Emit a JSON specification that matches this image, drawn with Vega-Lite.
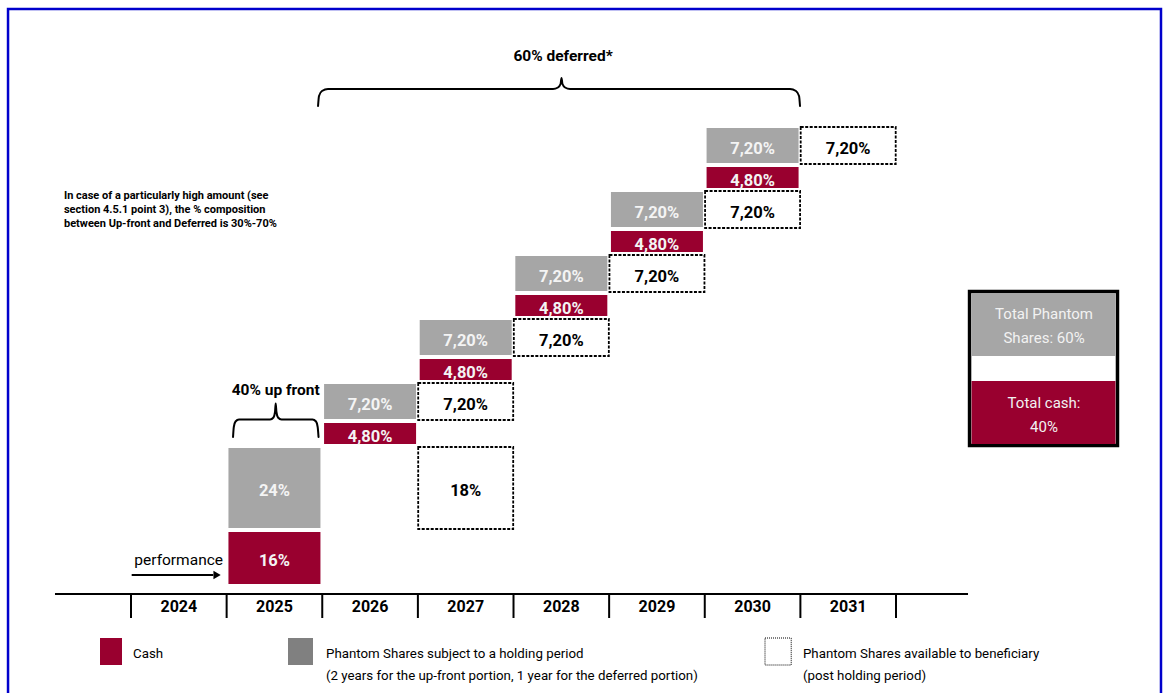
{
  "$schema": "https://vega.github.io/schema/vega-lite/v6.json",
  "width": 1163,
  "height": 693,
  "autosize": {"type": "fit", "contains": "padding"},
  "padding": 0,
  "background": "white",
  "config": {"view": {"stroke": null}, "text": {"font": "Roboto"}, "scale": {"continuousPadding": 0}},
  "datasets": {
    "frame": [{"x0": 2022.214, "x1": 2034.271, "y0": -110, "y1": 584}],
    "boxes": [
      {"year": 2025, "kind": "cash", "label": "16%", "bottom": 9, "top": 61, "mid": 35},
      {"year": 2025, "kind": "phantom", "label": "24%", "bottom": 65, "top": 145, "mid": 105},
      {"year": 2027, "kind": "available", "label": "18%", "bottom": 64, "top": 146, "mid": 105},
      {"year": 2026, "kind": "cash", "label": "4,80%", "bottom": 149, "top": 170, "mid": 159.5},
      {"year": 2026, "kind": "phantom", "label": "7,20%", "bottom": 174, "top": 209, "mid": 191.5},
      {"year": 2027, "kind": "available", "label": "7,20%", "bottom": 173, "top": 210, "mid": 191.5},
      {"year": 2027, "kind": "cash", "label": "4,80%", "bottom": 213, "top": 234, "mid": 223.5},
      {"year": 2027, "kind": "phantom", "label": "7,20%", "bottom": 238, "top": 273, "mid": 255.5},
      {"year": 2028, "kind": "available", "label": "7,20%", "bottom": 237, "top": 274, "mid": 255.5},
      {"year": 2028, "kind": "cash", "label": "4,80%", "bottom": 277, "top": 298, "mid": 287.5},
      {"year": 2028, "kind": "phantom", "label": "7,20%", "bottom": 302, "top": 337, "mid": 319.5},
      {"year": 2029, "kind": "available", "label": "7,20%", "bottom": 301, "top": 338, "mid": 319.5},
      {"year": 2029, "kind": "cash", "label": "4,80%", "bottom": 341, "top": 362, "mid": 351.5},
      {"year": 2029, "kind": "phantom", "label": "7,20%", "bottom": 366, "top": 401, "mid": 383.5},
      {"year": 2030, "kind": "available", "label": "7,20%", "bottom": 365, "top": 402, "mid": 383.5},
      {"year": 2030, "kind": "cash", "label": "4,80%", "bottom": 405, "top": 426, "mid": 415.5},
      {"year": 2030, "kind": "phantom", "label": "7,20%", "bottom": 430, "top": 465, "mid": 447.5},
      {"year": 2031, "kind": "available", "label": "7,20%", "bottom": 429, "top": 466, "mid": 447.5}
    ],
    "axisline": [{"from": 2022.705, "to": 2032.253, "level": -1}],
    "separators": [
      {"edge": 2023.5, "top": -1, "bottom": -25},
      {"edge": 2024.5, "top": -1, "bottom": -25},
      {"edge": 2025.5, "top": -1, "bottom": -25},
      {"edge": 2026.5, "top": -1, "bottom": -25},
      {"edge": 2027.5, "top": -1, "bottom": -25},
      {"edge": 2028.5, "top": -1, "bottom": -25},
      {"edge": 2029.5, "top": -1, "bottom": -25},
      {"edge": 2030.5, "top": -1, "bottom": -25},
      {"edge": 2031.5, "top": -1, "bottom": -25}
    ],
    "years": [
      {"year": 2024, "label": "2024", "level": -14},
      {"year": 2025, "label": "2025", "level": -14},
      {"year": 2026, "label": "2026", "level": -14},
      {"year": 2027, "label": "2027", "level": -14},
      {"year": 2028, "label": "2028", "level": -14},
      {"year": 2029, "label": "2029", "level": -14},
      {"year": 2030, "label": "2030", "level": -14},
      {"year": 2031, "label": "2031", "level": -14}
    ],
    "braces": [
      {"brace": "deferred", "seq": 1, "x": 2025.456, "y": 487},
      {"brace": "deferred", "seq": 2, "x": 2025.466, "y": 497},
      {"brace": "deferred", "seq": 3, "x": 2025.497, "y": 502},
      {"brace": "deferred", "seq": 4, "x": 2025.560, "y": 504},
      {"brace": "deferred", "seq": 5, "x": 2027.913, "y": 504},
      {"brace": "deferred", "seq": 6, "x": 2027.965, "y": 505.5},
      {"brace": "deferred", "seq": 7, "x": 2027.992, "y": 509},
      {"brace": "deferred", "seq": 8, "x": 2028.002, "y": 515},
      {"brace": "deferred", "seq": 9, "x": 2028.012, "y": 509},
      {"brace": "deferred", "seq": 10, "x": 2028.039, "y": 505.5},
      {"brace": "deferred", "seq": 11, "x": 2028.091, "y": 504},
      {"brace": "deferred", "seq": 12, "x": 2030.392, "y": 504},
      {"brace": "deferred", "seq": 13, "x": 2030.454, "y": 502},
      {"brace": "deferred", "seq": 14, "x": 2030.486, "y": 497},
      {"brace": "deferred", "seq": 15, "x": 2030.496, "y": 487},
      {"brace": "upfront", "seq": 1, "x": 2024.567, "y": 156},
      {"brace": "upfront", "seq": 2, "x": 2024.575, "y": 166},
      {"brace": "upfront", "seq": 3, "x": 2024.593, "y": 171.5},
      {"brace": "upfront", "seq": 4, "x": 2024.629, "y": 173.5},
      {"brace": "upfront", "seq": 5, "x": 2024.954, "y": 173.5},
      {"brace": "upfront", "seq": 6, "x": 2024.990, "y": 175.5},
      {"brace": "upfront", "seq": 7, "x": 2025.006, "y": 181},
      {"brace": "upfront", "seq": 8, "x": 2025.013, "y": 189.5},
      {"brace": "upfront", "seq": 9, "x": 2025.021, "y": 181},
      {"brace": "upfront", "seq": 10, "x": 2025.037, "y": 175.5},
      {"brace": "upfront", "seq": 11, "x": 2025.074, "y": 173.5},
      {"brace": "upfront", "seq": 12, "x": 2025.398, "y": 173.5},
      {"brace": "upfront", "seq": 13, "x": 2025.435, "y": 171.5},
      {"brace": "upfront", "seq": 14, "x": 2025.452, "y": 166},
      {"brace": "upfront", "seq": 15, "x": 2025.461, "y": 156}
    ],
    "titles": [
      {"x": 2028.018, "y": 537, "text": "60% deferred*"},
      {"x": 2025.013, "y": 203.5, "text": "40% up front"}
    ],
    "note": [
      {"x": 2022.799, "y": 397.4, "text": "In case of a particularly high amount (see\nsection 4.5.1 point 3), the % composition\nbetween Up-front and Deferred is 30%-70%"}
    ],
    "performance": [{"x": 2023.535, "y": 28, "text": "performance"}],
    "arrowshaft": [{"from": 2023.507, "to": 2024.36, "level": 18}],
    "arrowhead": [{"x": 2024.40, "y": 18}],
    "legendfill": [
      {"kind": "cash", "x0": 2023.176, "x1": 2023.406, "y0": -72, "y1": -45},
      {"kind": "phantom", "x0": 2025.142, "x1": 2025.403, "y0": -72, "y1": -45}
    ],
    "legenddotted": [{"kind": "available", "x0": 2030.130, "x1": 2030.404, "y0": -72, "y1": -45}],
    "legendtext": [
      {"x": 2023.521, "y": -61, "text": "Cash"},
      {"x": 2025.539, "y": -61, "text": "Phantom Shares subject to a holding period\n(2 years for the up-front portion, 1 year for the deferred portion)"},
      {"x": 2030.527, "y": -61, "text": "Phantom Shares available to beneficiary\n(post holding period)"}
    ],
    "totalframe": [{"x0": 2032.269, "x1": 2033.816, "y0": 147.5, "y1": 301.5}],
    "totalparts": [
      {"part": "phantom", "x0": 2032.290, "x1": 2033.795, "y0": 237, "y1": 300},
      {"part": "cash", "x0": 2032.290, "x1": 2033.795, "y0": 149, "y1": 212}
    ],
    "totaltext": [
      {"x": 2033.048, "y": 279, "text": "Total Phantom\nShares: 60%"},
      {"x": 2033.048, "y": 190.4, "text": "Total cash:\n40%"}
    ]
  },
  "layer": [
    {
      "data": {"name": "frame"},
      "mark": {"type": "rect", "fill": null, "stroke": "#0000CC", "strokeWidth": 2.5, "clip": true},
      "encoding": {
        "x": {"field": "x0", "type": "quantitative", "scale": {"domain": [2022.13, 2034.292], "nice": false, "zero": false, "padding": 0}, "axis": null},
        "x2": {"field": "x1"},
        "y": {"field": "y0", "type": "quantitative", "scale": {"domain": [-100, 593], "nice": false, "zero": false, "padding": 0}, "axis": null},
        "y2": {"field": "y1"}
      }
    },
    {
      "data": {"name": "boxes"},
      "transform": [{"filter": "datum.kind !== 'available'"}],
      "mark": {"type": "bar", "width": 92},
      "encoding": {
        "x": {"field": "year", "type": "quantitative", "scale": {"domain": [2022.13, 2034.292], "nice": false, "zero": false, "padding": 0}, "axis": null},
        "y": {"field": "top", "type": "quantitative", "scale": {"domain": [-100, 593], "nice": false, "zero": false, "padding": 0}, "axis": null},
        "y2": {"field": "bottom"},
        "color": {"condition": {"test": "datum.kind === 'cash'", "value": "#99002F"}, "value": "#A6A6A6"}
      }
    },
    {
      "data": {"name": "boxes"},
      "transform": [{"filter": "datum.kind === 'available'"}],
      "mark": {"type": "bar", "width": 95, "fill": "white", "stroke": "black", "strokeWidth": 1.8, "strokeDash": [3, 1.5]},
      "encoding": {
        "x": {"field": "year", "type": "quantitative", "scale": {"domain": [2022.13, 2034.292], "nice": false, "zero": false, "padding": 0}, "axis": null},
        "y": {"field": "top", "type": "quantitative", "scale": {"domain": [-100, 593], "nice": false, "zero": false, "padding": 0}, "axis": null},
        "y2": {"field": "bottom"}
      }
    },
    {
      "data": {"name": "boxes"},
      "mark": {"type": "text", "font": "Roboto", "fontWeight": "bold", "fontSize": 16.5, "align": "center", "baseline": "middle", "dy": 3},
      "encoding": {
        "x": {"field": "year", "type": "quantitative", "scale": {"domain": [2022.13, 2034.292], "nice": false, "zero": false, "padding": 0}, "axis": null},
        "y": {"field": "mid", "type": "quantitative", "scale": {"domain": [-100, 593], "nice": false, "zero": false, "padding": 0}, "axis": null},
        "text": {"field": "label"},
        "color": {"condition": {"test": "datum.kind === 'available'", "value": "black"}, "value": "#F4F4F4"}
      }
    },
    {
      "data": {"name": "axisline"},
      "mark": {"type": "rule", "color": "black", "strokeWidth": 2},
      "encoding": {
        "x": {"field": "from", "type": "quantitative", "scale": {"domain": [2022.13, 2034.292], "nice": false, "zero": false, "padding": 0}, "axis": null},
        "x2": {"field": "to"},
        "y": {"field": "level", "type": "quantitative", "scale": {"domain": [-100, 593], "nice": false, "zero": false, "padding": 0}, "axis": null}
      }
    },
    {
      "data": {"name": "separators"},
      "mark": {"type": "rule", "color": "black", "strokeWidth": 2},
      "encoding": {
        "x": {"field": "edge", "type": "quantitative", "scale": {"domain": [2022.13, 2034.292], "nice": false, "zero": false, "padding": 0}, "axis": null},
        "y": {"field": "top", "type": "quantitative", "scale": {"domain": [-100, 593], "nice": false, "zero": false, "padding": 0}, "axis": null},
        "y2": {"field": "bottom"}
      }
    },
    {
      "data": {"name": "years"},
      "mark": {"type": "text", "font": "Roboto", "fontWeight": "bold", "fontSize": 16, "align": "center", "baseline": "middle", "color": "black"},
      "encoding": {
        "x": {"field": "year", "type": "quantitative", "scale": {"domain": [2022.13, 2034.292], "nice": false, "zero": false, "padding": 0}, "axis": null},
        "y": {"field": "level", "type": "quantitative", "scale": {"domain": [-100, 593], "nice": false, "zero": false, "padding": 0}, "axis": null},
        "text": {"field": "label"}
      }
    },
    {
      "data": {"name": "braces"},
      "mark": {"type": "line", "interpolate": "monotone", "color": "black", "strokeWidth": 2, "strokeCap": "round"},
      "encoding": {
        "x": {"field": "x", "type": "quantitative", "scale": {"domain": [2022.13, 2034.292], "nice": false, "zero": false, "padding": 0}, "axis": null},
        "y": {"field": "y", "type": "quantitative", "scale": {"domain": [-100, 593], "nice": false, "zero": false, "padding": 0}, "axis": null},
        "detail": {"field": "brace"},
        "order": {"field": "seq", "type": "quantitative"}
      }
    },
    {
      "data": {"name": "titles"},
      "mark": {"type": "text", "font": "Roboto", "fontWeight": "bold", "fontSize": 15.5, "align": "center", "baseline": "middle", "color": "black"},
      "encoding": {
        "x": {"field": "x", "type": "quantitative", "scale": {"domain": [2022.13, 2034.292], "nice": false, "zero": false, "padding": 0}, "axis": null},
        "y": {"field": "y", "type": "quantitative", "scale": {"domain": [-100, 593], "nice": false, "zero": false, "padding": 0}, "axis": null},
        "text": {"field": "text"}
      }
    },
    {
      "data": {"name": "note"},
      "mark": {"type": "text", "font": "Roboto", "fontWeight": "bold", "fontSize": 11, "align": "left", "baseline": "middle", "lineBreak": "\n", "lineHeight": 14.2, "color": "black"},
      "encoding": {
        "x": {"field": "x", "type": "quantitative", "scale": {"domain": [2022.13, 2034.292], "nice": false, "zero": false, "padding": 0}, "axis": null},
        "y": {"field": "y", "type": "quantitative", "scale": {"domain": [-100, 593], "nice": false, "zero": false, "padding": 0}, "axis": null},
        "text": {"field": "text"}
      }
    },
    {
      "data": {"name": "performance"},
      "mark": {"type": "text", "font": "Roboto", "fontSize": 15.5, "align": "left", "baseline": "alphabetic", "color": "black"},
      "encoding": {
        "x": {"field": "x", "type": "quantitative", "scale": {"domain": [2022.13, 2034.292], "nice": false, "zero": false, "padding": 0}, "axis": null},
        "y": {"field": "y", "type": "quantitative", "scale": {"domain": [-100, 593], "nice": false, "zero": false, "padding": 0}, "axis": null},
        "text": {"field": "text"}
      }
    },
    {
      "data": {"name": "arrowshaft"},
      "mark": {"type": "rule", "color": "black", "strokeWidth": 2},
      "encoding": {
        "x": {"field": "from", "type": "quantitative", "scale": {"domain": [2022.13, 2034.292], "nice": false, "zero": false, "padding": 0}, "axis": null},
        "x2": {"field": "to"},
        "y": {"field": "level", "type": "quantitative", "scale": {"domain": [-100, 593], "nice": false, "zero": false, "padding": 0}, "axis": null}
      }
    },
    {
      "data": {"name": "arrowhead"},
      "mark": {"type": "point", "shape": "triangle-right", "filled": true, "color": "black", "size": 70, "opacity": 1},
      "encoding": {
        "x": {"field": "x", "type": "quantitative", "scale": {"domain": [2022.13, 2034.292], "nice": false, "zero": false, "padding": 0}, "axis": null},
        "y": {"field": "y", "type": "quantitative", "scale": {"domain": [-100, 593], "nice": false, "zero": false, "padding": 0}, "axis": null}
      }
    },
    {
      "data": {"name": "legendfill"},
      "mark": {"type": "rect"},
      "encoding": {
        "x": {"field": "x0", "type": "quantitative", "scale": {"domain": [2022.13, 2034.292], "nice": false, "zero": false, "padding": 0}, "axis": null},
        "x2": {"field": "x1"},
        "y": {"field": "y0", "type": "quantitative", "scale": {"domain": [-100, 593], "nice": false, "zero": false, "padding": 0}, "axis": null},
        "y2": {"field": "y1"},
        "color": {"condition": {"test": "datum.kind === 'cash'", "value": "#99002F"}, "value": "#808080"}
      }
    },
    {
      "data": {"name": "legenddotted"},
      "mark": {"type": "rect", "fill": "white", "stroke": "black", "strokeWidth": 1, "strokeDash": [1, 1]},
      "encoding": {
        "x": {"field": "x0", "type": "quantitative", "scale": {"domain": [2022.13, 2034.292], "nice": false, "zero": false, "padding": 0}, "axis": null},
        "x2": {"field": "x1"},
        "y": {"field": "y0", "type": "quantitative", "scale": {"domain": [-100, 593], "nice": false, "zero": false, "padding": 0}, "axis": null},
        "y2": {"field": "y1"}
      }
    },
    {
      "data": {"name": "legendtext"},
      "mark": {"type": "text", "font": "Roboto", "fontSize": 13.3, "align": "left", "baseline": "middle", "lineBreak": "\n", "lineHeight": 22, "color": "black"},
      "encoding": {
        "x": {"field": "x", "type": "quantitative", "scale": {"domain": [2022.13, 2034.292], "nice": false, "zero": false, "padding": 0}, "axis": null},
        "y": {"field": "y", "type": "quantitative", "scale": {"domain": [-100, 593], "nice": false, "zero": false, "padding": 0}, "axis": null},
        "text": {"field": "text"}
      }
    },
    {
      "data": {"name": "totalframe"},
      "mark": {"type": "rect", "fill": "white", "stroke": "black", "strokeWidth": 3.5},
      "encoding": {
        "x": {"field": "x0", "type": "quantitative", "scale": {"domain": [2022.13, 2034.292], "nice": false, "zero": false, "padding": 0}, "axis": null},
        "x2": {"field": "x1"},
        "y": {"field": "y0", "type": "quantitative", "scale": {"domain": [-100, 593], "nice": false, "zero": false, "padding": 0}, "axis": null},
        "y2": {"field": "y1"}
      }
    },
    {
      "data": {"name": "totalparts"},
      "mark": {"type": "rect"},
      "encoding": {
        "x": {"field": "x0", "type": "quantitative", "scale": {"domain": [2022.13, 2034.292], "nice": false, "zero": false, "padding": 0}, "axis": null},
        "x2": {"field": "x1"},
        "y": {"field": "y0", "type": "quantitative", "scale": {"domain": [-100, 593], "nice": false, "zero": false, "padding": 0}, "axis": null},
        "y2": {"field": "y1"},
        "color": {"condition": {"test": "datum.part === 'cash'", "value": "#99002F"}, "value": "#A6A6A6"}
      }
    },
    {
      "data": {"name": "totaltext"},
      "mark": {"type": "text", "font": "Roboto", "fontSize": 15, "align": "center", "baseline": "middle", "lineBreak": "\n", "lineHeight": 24, "color": "#F2F2F2"},
      "encoding": {
        "x": {"field": "x", "type": "quantitative", "scale": {"domain": [2022.13, 2034.292], "nice": false, "zero": false, "padding": 0}, "axis": null},
        "y": {"field": "y", "type": "quantitative", "scale": {"domain": [-100, 593], "nice": false, "zero": false, "padding": 0}, "axis": null},
        "text": {"field": "text"}
      }
    }
  ]
}
